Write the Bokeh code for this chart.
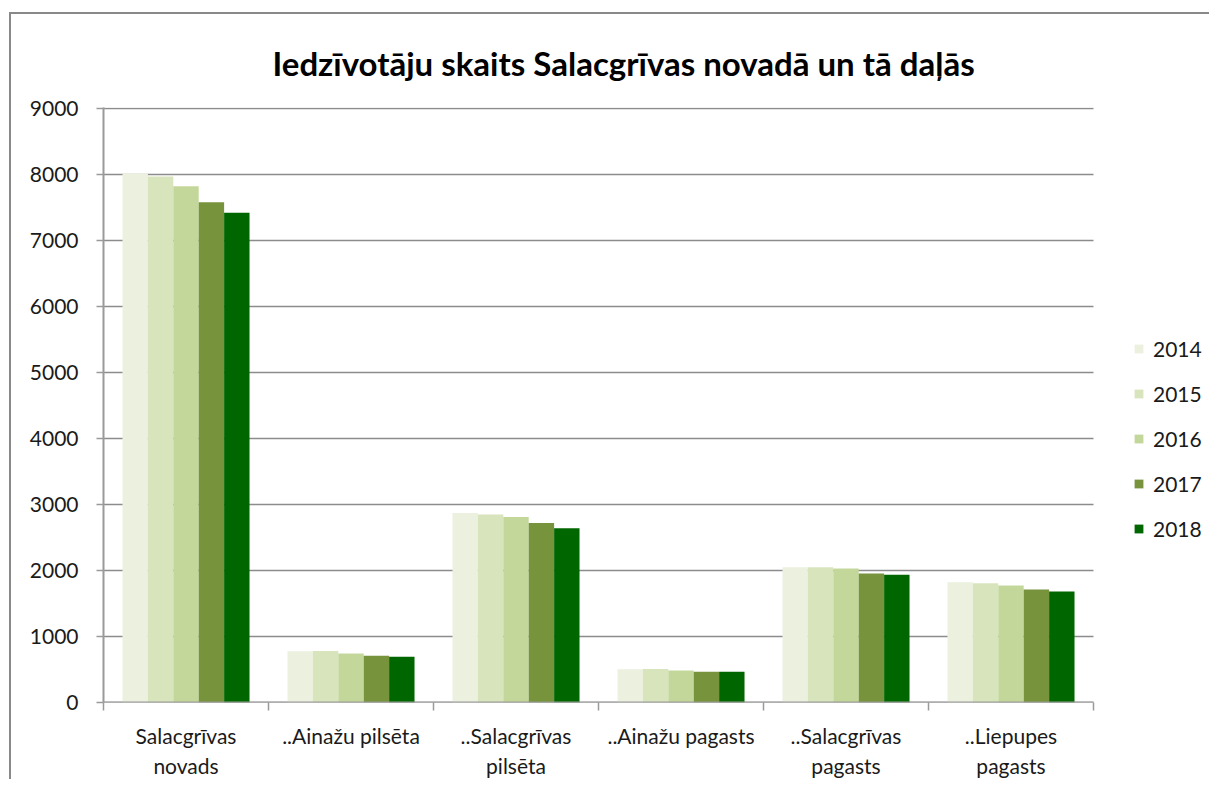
from bokeh.plotting import figure
from bokeh.models import (ColumnDataSource, FixedTicker, LinearAxis, Legend,
                          LegendItem, Range1d)
from bokeh.embed import file_html
from bokeh.resources import INLINE

categories = ["Salacgrīvas\nnovads", "..Ainažu pilsēta", "..Salacgrīvas\npilsēta",
              "..Ainažu pagasts", "..Salacgrīvas\npagasts", "..Liepupes\npagasts"]
years = ["2014", "2015", "2016", "2017", "2018"]
v2014 = [8020, 778, 2870, 505, 2050, 1823]
v2015 = [7970, 782, 2850, 508, 2050, 1808]
v2016 = [7823, 742, 2810, 485, 2030, 1773]
v2017 = [7580, 707, 2720, 465, 1955, 1712]
v2018 = [7420, 692, 2640, 465, 1935, 1682]
series = [v2014, v2015, v2016, v2017, v2018]
colors = ["#EBF1DE", "#D8E4BC", "#C4D79B", "#77933C", "#006600"]
y_ticks = [0, 1000, 2000, 3000, 4000, 5000, 6000, 7000, 8000, 9000]

FONT = "Lato"
W, H = 1200, 767
FL, FT, FR = 92, 93, 5
FH = 595
PLOT_W = 990                      # width in px of the category area
FW = W - FL - FR                  # frame extends under the legend
n = len(categories)
x_end = n * FW / PLOT_W
y_end = 9000 * FH / 594

p = figure(width=W, height=H, output_backend="svg", toolbar_location=None,
           x_range=Range1d(0, x_end), y_range=Range1d(0, y_end),
           x_axis_type=None, y_axis_type=None,
           min_border_left=FL, min_border_top=FT,
           min_border_bottom=H - FT - FH, min_border_right=FR)
p.styles = {"border-left": "2px solid #898989", "border-top": "2px solid #898989",
            "box-sizing": "border-box",
            "margin-left": "3px", "margin-top": "6px",
            "position": "relative", "left": "6px", "top": "6px"}
p.outline_line_color = None
p.background_fill_color = "white"
p.border_fill_color = "white"
p.xgrid.grid_line_color = None
p.ygrid.grid_line_color = None

# horizontal grid lines across the category area only
p.segment(x0=[0] * len(y_ticks), x1=[n] * len(y_ticks), y0=y_ticks, y1=y_ticks,
          line_color="#8c8c8c", line_width=1.5)

bw = 0.154
items = []
for k, (yr, vals, col) in enumerate(zip(years, series, colors)):
    xs = [i + 0.5 + (k - 2) * bw for i in range(n)]
    src = ColumnDataSource(dict(x=xs, top=vals))
    r = p.vbar(x="x", top="top", width=bw, bottom=0, source=src,
               fill_color=col, line_color=None)
    items.append(LegendItem(label=yr, renderers=[r]))

# x axis baseline
p.segment(x0=[0], x1=[n], y0=[0], y1=[0], line_color="#9a9a9a", line_width=2)

# y axis
yax = LinearAxis(ticker=FixedTicker(ticks=y_ticks))
yax.axis_line_color = "#9a9a9a"
yax.axis_line_width = 2
yax.major_tick_line_color = "#9a9a9a"
yax.major_tick_line_width = 1.5
yax.major_tick_out = 7
yax.major_tick_in = 0
yax.minor_tick_line_color = None
yax.major_label_text_font = FONT
yax.major_label_text_font_size = "21px"
yax.major_label_text_color = "#1a1a1a"
yax.major_label_standoff = 18
p.add_layout(yax, "left")

# x axis with boundary ticks (no labels)
bticks = list(range(n + 1))
xax = LinearAxis(ticker=FixedTicker(ticks=bticks),
                 major_label_overrides={t: "" for t in bticks})
xax.axis_line_color = None
xax.major_tick_line_color = "#9a9a9a"
xax.major_tick_line_width = 1.5
xax.major_tick_out = 8
xax.major_tick_in = 0
xax.minor_tick_line_color = None
xax.major_label_standoff = 0
p.add_layout(xax, "below")

# x axis with category labels
centers = [i + 0.5 for i in range(n)]
lax = LinearAxis(ticker=FixedTicker(ticks=centers),
                 major_label_overrides={c: lab for c, lab in zip(centers, categories)})
lax.axis_line_color = None
lax.major_tick_line_color = None
lax.minor_tick_line_color = None
lax.major_label_text_font = FONT
lax.major_label_text_font_size = "21px"
lax.major_label_text_color = "#1a1a1a"
lax.major_label_standoff = 6
p.add_layout(lax, "below")

# title
p.title.text = "Iedzīvotāju skaits Salacgrīvas novadā un tā daļās"
p.title.text_font = FONT
p.title.text_font_size = "33px"
p.title.text_font_style = "bold"
p.title.align = "left"
p.title.offset = 169
p.title.standoff = 50
p.title.text_line_height = 0.8
p.title.text_color = "#000000"

legend = Legend(items=items, location=(1030, 161))
legend.label_text_font = FONT
legend.label_text_font_size = "21px"
legend.label_text_color = "#1a1a1a"
legend.label_height = 25
legend.label_standoff = 9
legend.glyph_width = 11
legend.glyph_height = 11
legend.spacing = 20
legend.padding = 0
legend.margin = 0
legend.border_line_color = None
legend.background_fill_alpha = 0
p.add_layout(legend, "center")

open("out.html", "w").write(file_html(p, INLINE))
